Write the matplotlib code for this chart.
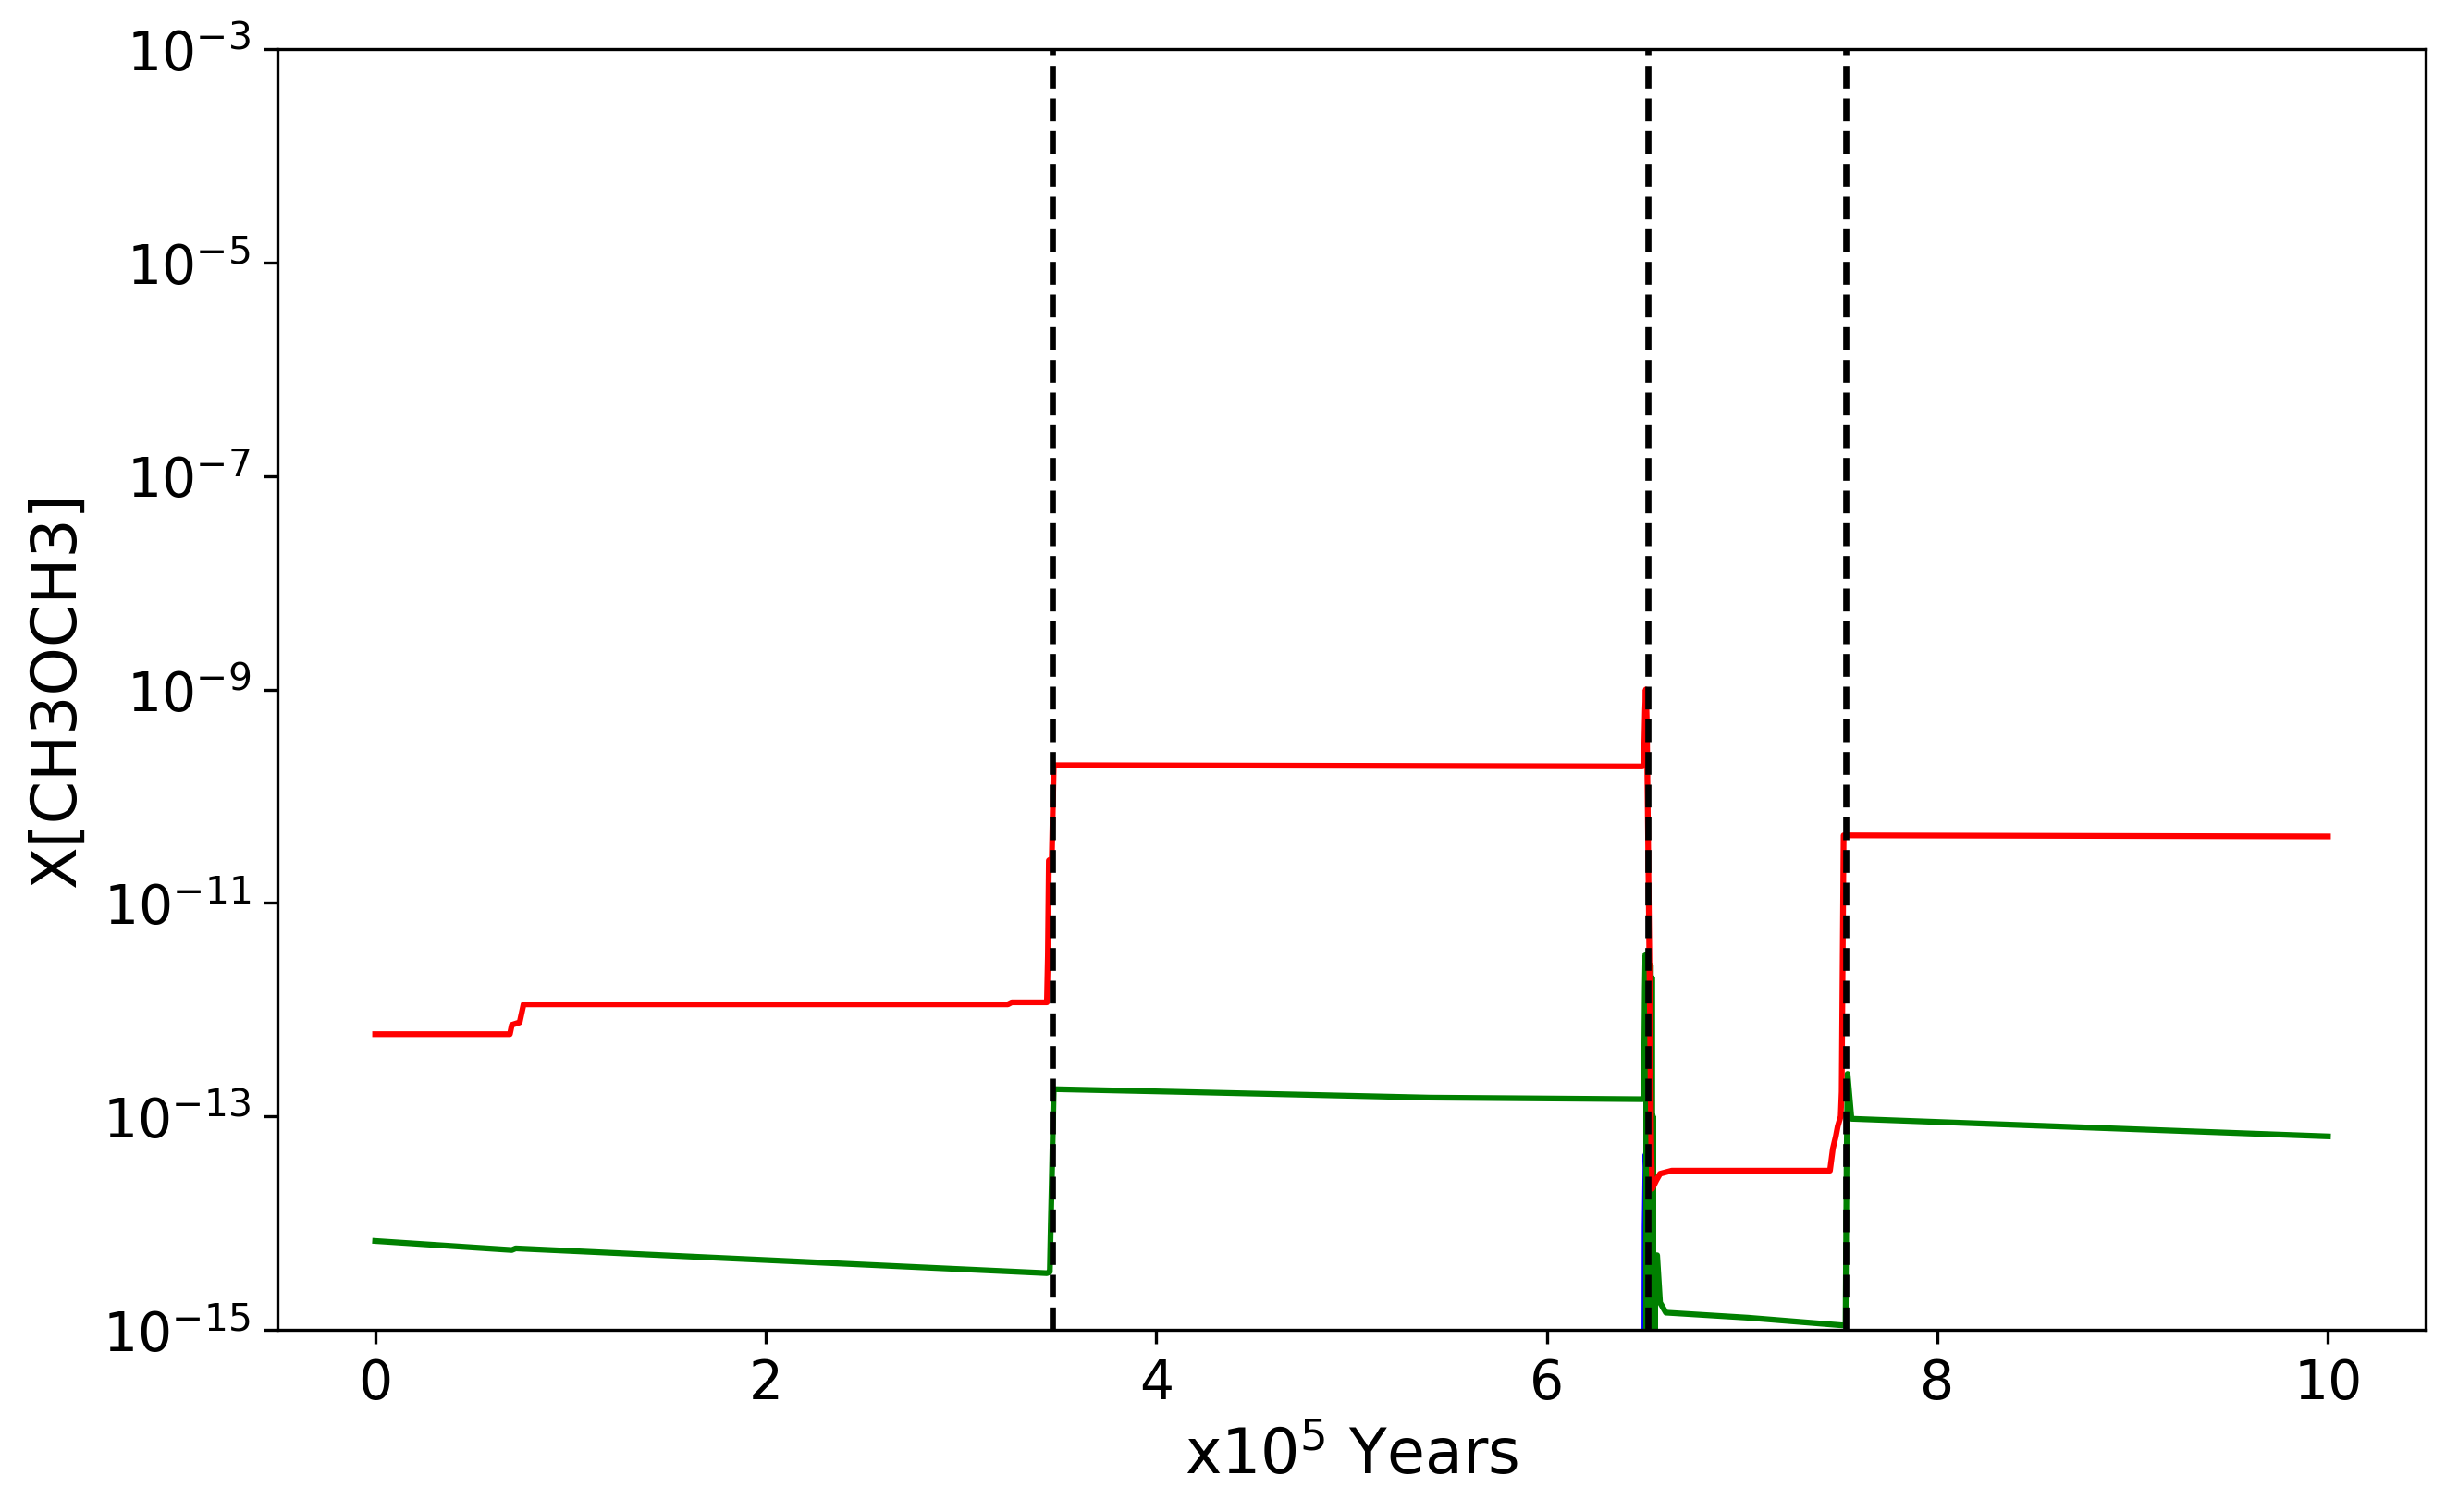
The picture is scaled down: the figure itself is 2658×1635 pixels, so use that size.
import matplotlib
matplotlib.use("Agg")
import matplotlib.pyplot as plt

# time in units of 1e5 years
t_red = [0.00, 0.69, 0.70, 0.74, 0.76, 3.24, 3.26, 3.44, 3.445, 3.45, 3.465, 3.475,
         3.60, 6.49, 6.497, 6.503, 6.507, 6.512, 6.525, 6.535, 6.54, 6.56, 6.58,
         6.64, 7.45, 7.465, 7.48, 7.49, 7.505, 7.51, 7.52, 10.0]
x_red = [5.9e-13, 5.9e-13, 7.2e-13, 7.6e-13, 1.12e-12, 1.12e-12, 1.17e-12, 1.17e-12,
         3.2e-12, 2.5e-11, 2.6e-11, 1.95e-10, 1.95e-10, 1.9e-10, 2.0e-10, 6.3e-10,
         1.0e-9, 5.0e-10, 3.2e-12, 5.0e-14, 2.1e-14, 2.5e-14, 2.9e-14, 3.1e-14,
         3.1e-14, 5.0e-14, 6.5e-14, 8.1e-14, 1.0e-13, 1.7e-13, 4.3e-11, 4.2e-11]

t_green = [0.00, 0.70, 0.72, 3.44, 3.455, 3.46, 3.465, 3.475, 4.10, 5.40, 6.49, 6.497,
           6.502, 6.505, 6.508, 6.511, 6.514, 6.517, 6.520, 6.523, 6.526, 6.529,
           6.532, 6.535, 6.538, 6.541, 6.544, 6.547, 6.550, 6.553, 6.556,
           6.565, 6.58, 6.61, 7.03, 7.52, 7.53, 7.535, 7.54, 7.56, 10.0]
x_green = [6.8e-15, 5.6e-15, 5.8e-15, 3.4e-15, 3.5e-15, 1.0e-14, 2.5e-14, 1.8e-13,
           1.7e-13, 1.5e-13, 1.45e-13, 1.6e-13, 1.6e-12, 3.3e-12, 3.2e-12, 3.0e-16,
           3.0e-12, 3.0e-16, 2.8e-12, 3.0e-16, 2.5e-12, 3.0e-16, 2.6e-12, 3.0e-16,
           2.0e-12, 3.0e-16, 1.0e-13, 3.0e-16, 5.0e-15, 3.0e-16, 5.0e-15,
           5.0e-15, 1.8e-15, 1.45e-15, 1.3e-15, 1.1e-15, 1.1e-15, 3.2e-14, 2.5e-13,
           9.5e-14, 6.5e-14]

t_blue = [0.00, 6.49, 6.499, 6.501, 6.506, 6.51, 6.515, 10.0]
x_blue = [1e-17, 1e-17, 3e-16, 9.3e-15, 4.4e-14, 3.0e-14, 1e-17, 1e-17]

t_events = [3.47, 6.52, 7.53]

fig = plt.figure(figsize=(8.86, 5.453), dpi=300)
ax = fig.add_axes([0.1129, 0.1204, 0.8739, 0.8466])

ax.plot(t_blue, x_blue, color="blue", lw=1.5)
ax.plot(t_green, x_green, color="green", lw=1.5)
ax.plot(t_red, x_red, color="red", lw=1.5)
for te in t_events:
    ax.axvline(te, color="black", ls="--", lw=1.6)

ax.set_yscale("log")
ax.set_ylim(1e-15, 1e-3)
ax.set_xlim(-0.5, 10.5)
ax.set_yticks([1e-15, 1e-13, 1e-11, 1e-9, 1e-7, 1e-5, 1e-3])
ax.minorticks_off()
ax.set_xticks([0, 2, 4, 6, 8, 10])
ax.tick_params(labelsize=14)
ax.set_xlabel(r"x10$^5$ Years", fontsize=16)
ax.set_ylabel("X[CH3OCH3]", fontsize=16)

fig.savefig("out.png", dpi=300, facecolor="white")
